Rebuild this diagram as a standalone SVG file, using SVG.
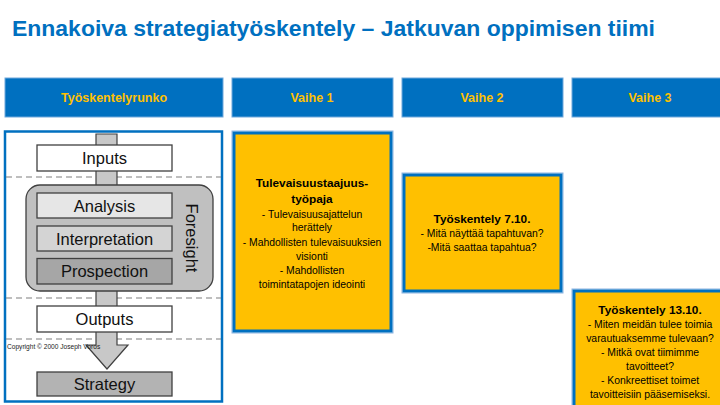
<svg xmlns="http://www.w3.org/2000/svg" width="720" height="405" viewBox="0 0 720 405">
<defs>
<style>
.hdr{fill:#0070C0;stroke:#6FA8DC;stroke-width:1}
.hdrt{font-family:"Liberation Sans",Arial,sans-serif;font-weight:bold;font-size:12.5px;fill:#FFC000;text-anchor:middle}
.card{fill:#FFC000;stroke:#0070C0;stroke-width:3}
.cardo{fill:none;stroke:#8DB4E2;stroke-width:1}
.bt{font-family:"Liberation Sans",Arial,sans-serif;font-weight:bold;font-size:11.8px;fill:#000;text-anchor:middle}
.t{font-family:"Liberation Sans",Arial,sans-serif;font-size:10.4px;fill:#000;text-anchor:middle}
.fb{stroke:#404040;stroke-width:1.3}
.ft{font-family:"Liberation Sans",Arial,sans-serif;font-size:16.5px;fill:#111;text-anchor:middle}
.dash{stroke:#7f7f7f;stroke-width:1.2;stroke-dasharray:6 4;fill:none}
</style>
</defs>
<rect width="720" height="405" fill="#fff"/>
<text x="12" y="36" font-family="Liberation Sans,Arial,sans-serif" font-weight="bold" font-size="22" fill="#0070C0" textLength="643" lengthAdjust="spacingAndGlyphs">Ennakoiva strategiatyöskentely – Jatkuvan oppimisen tiimi</text>

<g id="header-runko"><rect class="hdr" x="5" y="78" width="218" height="39"/><text class="hdrt" x="114" y="102">Työskentelyrunko</text></g>
<g id="header-vaihe1"><rect class="hdr" x="232" y="78" width="161" height="39"/><text class="hdrt" x="312" y="102">Vaihe 1</text></g>
<g id="header-vaihe2"><rect class="hdr" x="402" y="78" width="161" height="39"/><text class="hdrt" x="482" y="102">Vaihe 2</text></g>
<g id="header-vaihe3"><rect class="hdr" x="572" y="78" width="150" height="39"/><text class="hdrt" x="650" y="102">Vaihe 3</text></g>

<g id="framework">
<rect x="5" y="131.5" width="217" height="270" fill="#fff" stroke="#0070C0" stroke-width="2.5"/>
<line class="dash" x1="6" y1="177" x2="221" y2="177"/>
<line class="dash" x1="6" y1="298" x2="221" y2="298"/>
<line class="dash" x1="6" y1="339" x2="221" y2="339"/>
</g>

<g id="connectors">
<path d="M96 134 H117 V345 H128 L107 369 L86 345 H96 Z" fill="#c8c8c8" stroke="#404040" stroke-width="1.2"/>
</g>

<g id="inputs"><rect class="fb" x="37" y="145" width="135" height="26" fill="#fff"/><text class="ft" x="104.5" y="164">Inputs</text></g>
<g id="foresight">
<rect class="fb" x="26" y="185" width="187" height="106" rx="14" fill="#c0c0c0"/>
<text class="ft" font-size="18" transform="translate(186 238) rotate(90)" y="0">Foresight</text>
</g>
<g id="analysis"><rect class="fb" x="37" y="193" width="135" height="25" fill="#e6e6e6"/><text class="ft" x="104.5" y="211.5">Analysis</text></g>
<g id="interpretation"><rect class="fb" x="37" y="226" width="135" height="25" fill="#d4d4d4"/><text class="ft" x="104.5" y="244.5">Interpretation</text></g>
<g id="prospection"><rect class="fb" x="37" y="258.5" width="135" height="25.5" fill="#a6a6a6"/><text class="ft" x="104.5" y="277">Prospection</text></g>
<g id="outputs"><rect class="fb" x="37" y="306" width="135" height="26" fill="#fff"/><text class="ft" x="104.5" y="325">Outputs</text></g>
<text x="7" y="349" font-family="Liberation Sans,Arial,sans-serif" font-size="6.6" fill="#222">Copyright © 2000 Joseph Voros</text>
<g id="strategy"><rect class="fb" x="37" y="372" width="135" height="24" fill="#b3b3b3"/><text class="ft" x="104.5" y="390">Strategy</text></g>

<g id="vaihe1-card">
<rect class="cardo" x="232" y="131" width="161" height="202"/>
<rect class="card" x="234" y="133" width="157" height="198"/>
<text class="bt" x="312" y="187">Tulevaisuustaajuus-</text>
<text class="bt" x="312" y="203">työpaja</text>
<text class="t" x="312" y="217.5">- Tulevaisuusajattelun</text>
<text class="t" x="312" y="231">herättely</text>
<text class="t" x="312" y="245.5">- Mahdollisten tulevaisuuksien</text>
<text class="t" x="312" y="259.5">visionti</text>
<text class="t" x="312" y="273.5">- Mahdollisten</text>
<text class="t" x="312" y="287.5">toimintatapojen ideointi</text>
</g>

<g id="vaihe2-card">
<rect class="cardo" x="402" y="173" width="161" height="120"/>
<rect class="card" x="404" y="175" width="157" height="116"/>
<text class="bt" x="482" y="223">Työskentely 7.10.</text>
<text class="t" x="482" y="236.5">- Mitä näyttää tapahtuvan?</text>
<text class="t" x="482" y="251">-Mitä saattaa tapahtua?</text>
</g>

<g id="vaihe3-card">
<rect class="cardo" x="572" y="289" width="161" height="130"/>
<rect class="card" x="574" y="291" width="157" height="126"/>
<text class="bt" x="650" y="314">Työskentely 13.10.</text>
<text class="t" x="650" y="327.5">- Miten meidän tulee toimia</text>
<text class="t" x="650" y="341.5">varautuaksemme tulevaan?</text>
<text class="t" x="650" y="355.5">- Mitkä ovat tiimimme</text>
<text class="t" x="650" y="369.5">tavoitteet?</text>
<text class="t" x="650" y="384">- Konkreettiset toimet</text>
<text class="t" x="650" y="398">tavoitteisiin pääsemiseksi.</text>
</g>
</svg>
